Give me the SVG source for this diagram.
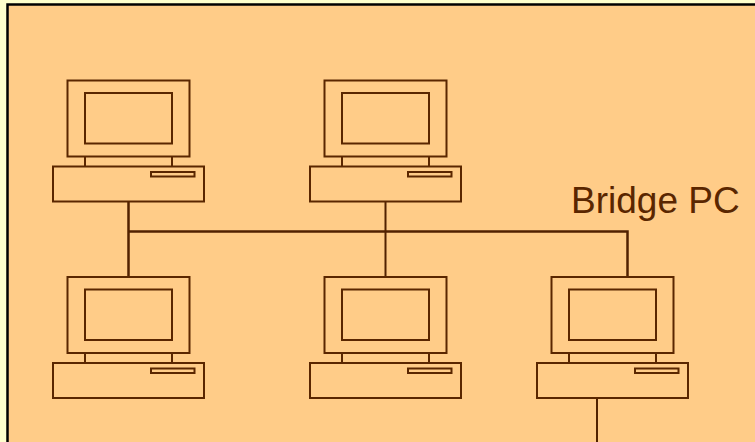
<svg xmlns="http://www.w3.org/2000/svg" width="755" height="442" viewBox="0 0 755 442">
<style>
.pc rect,.pc path{fill:none;stroke:#5a2600;stroke-width:2}
.c path{fill:none;stroke:#512100}
text{font-family:"Liberation Sans",Arial,sans-serif;font-size:37px;fill:#5a2600}
</style>
<defs>
<g id="computer" class="pc">
<rect x="67.500" y="80.500" width="122" height="76"/>
<rect x="85" y="93" width="87" height="50.500"/>
<path d="M85 156.500V166.500M172 156.500V166.500"/>
<rect x="53" y="166.500" width="151" height="35"/>
<rect x="151" y="172" width="43.500" height="4.500"/>
</g>
</defs>
<rect width="755" height="442" fill="#ffffcc"/>
<rect x="7.500" y="4.500" width="748" height="438" fill="#ffcc88"/>
<path d="M7.500 442V4.500H755" fill="none" stroke="#000" stroke-width="2.500"/>
<g id="connectors" class="c">
<path stroke-width="2.500" d="M128.500 201V276M128 231.500H627.500V277"/>
<path stroke-width="2" d="M385.500 201V277M597 398V442"/>
</g>
<use id="pc-top-left" href="#computer"/>
<use id="pc-top-middle" href="#computer" x="257"/>
<use id="pc-bottom-left" href="#computer" y="196.500"/>
<use id="pc-bottom-middle" href="#computer" x="257" y="196.500"/>
<use id="pc-bridge" href="#computer" x="484" y="196.500"/>
<text id="bridge-label" x="571" y="213">Bridge PC</text>
</svg>
